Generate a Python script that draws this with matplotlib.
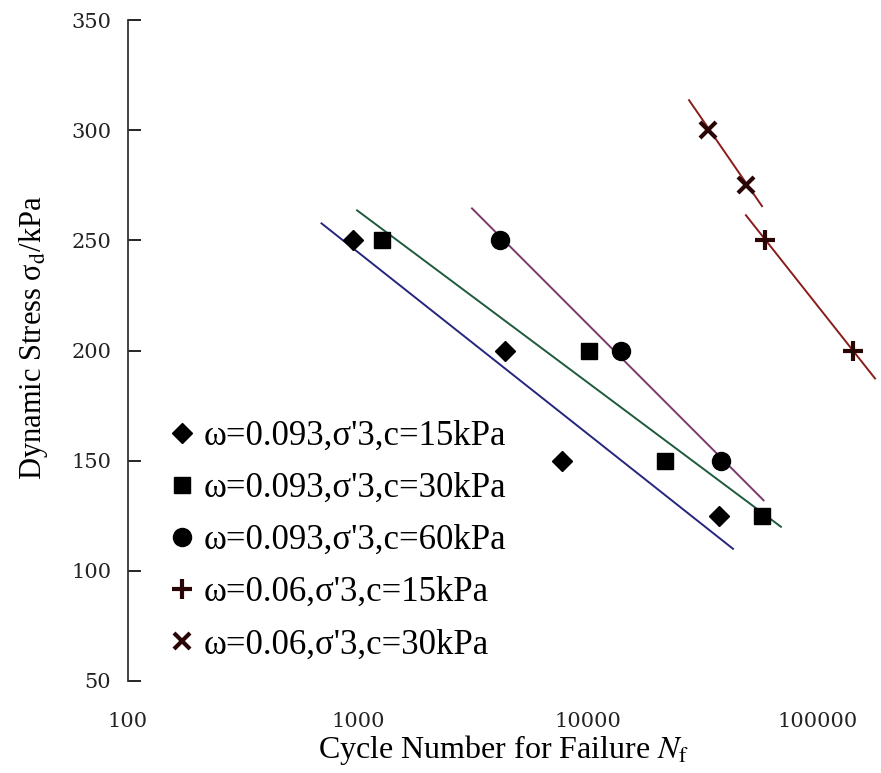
import matplotlib
matplotlib.use("Agg")
import matplotlib.pyplot as plt
import numpy as np

# ---------------- data ----------------
labels = ["ω=0.093,σ'3,c=15kPa", "ω=0.093,σ'3,c=30kPa", "ω=0.093,σ'3,c=60kPa",
          "ω=0.06,σ'3,c=15kPa", "ω=0.06,σ'3,c=30kPa"]

n_d15 = [950, 4360, 7710, 37000]
s_d15 = [250, 200, 150, 125]
n_d30 = [1270, 10100, 21600, 57000]
s_d30 = [250, 200, 150, 125]
n_d60 = [4140, 13900, 38000]
s_d60 = [250, 200, 150]
n_s15 = [58800, 142000]
s_s15 = [250, 200]
n_s30 = [33200, 48600]
s_s30 = [300, 275]

# trend lines (end points)
tl_n_d15 = [694, 42700];   tl_s_d15 = [257.7, 110.0]
tl_n_d30 = [991, 69000];   tl_s_d30 = [263.6, 120.0]
tl_n_d60 = [3130, 58000];  tl_s_d60 = [264.5, 132.0]
tl_n_s15 = [48600, 177000]; tl_s_s15 = [261.4, 187.3]
tl_n_s30 = [27500, 57100]; tl_s_s30 = [313.6, 265.5]

xticks = [100, 1000, 10000, 100000]
xtick_labels = ["100", "1000", "10000", "100000"]
yticks = [50, 100, 150, 200, 250, 300, 350]

# ---------------- figure ----------------
plt.rcParams['font.family'] = ['Liberation Serif', 'DejaVu Serif']
plt.rcParams['mathtext.fontset'] = 'stix'

fig = plt.figure(figsize=(8.81, 7.73), dpi=100)
ax = fig.add_axes([128/881, 92/773, 752/881, 661/773])

ax.set_xscale('log')
ax.set_xlim(100, 10**(2 + 752/230))
ax.set_ylim(50, 350)

line_cols = ['#25257f', '#1f5a3c', '#7a3a6c', '#8a1c1c', '#8a1c1c']
tls = [(tl_n_d15, tl_s_d15), (tl_n_d30, tl_s_d30), (tl_n_d60, tl_s_d60),
       (tl_n_s15, tl_s_s15), (tl_n_s30, tl_s_s30)]
for (tn, ts), c in zip(tls, line_cols):
    ax.plot(tn, ts, color=c, lw=1.4, zorder=2, clip_on=True)

ax.plot(n_d15, s_d15, ls='none', marker='D', ms=10, color='black', label=labels[0], zorder=3)
ax.plot(n_d30, s_d30, ls='none', marker='s', ms=12, color='black', label=labels[1], zorder=3)
ax.plot(n_d60, s_d60, ls='none', marker='o', ms=13, color='black', label=labels[2], zorder=3)
ax.plot(n_s15, s_s15, ls='none', marker='+', ms=14, mew=3, color='#2a0505', label=labels[3], zorder=3)
ax.plot(n_s30, s_s30, ls='none', marker='x', ms=12, mew=3, color='#2a0505', label=labels[4], zorder=3)

ax.set_xticks(xticks)
ax.set_xticklabels(xtick_labels)
ax.xaxis.set_minor_locator(matplotlib.ticker.NullLocator())
ax.set_yticks(yticks)
ax.tick_params(axis='y', direction='in', length=9, width=1.2, labelsize=15, pad=12)
ax.tick_params(axis='x', length=0, labelsize=15, pad=22)
for t in ax.get_xticklabels() + ax.get_yticklabels():
    t.set_fontfamily('DejaVu Serif')
    t.set_color('#222222')

for s in ['top', 'right', 'bottom']:
    ax.spines[s].set_visible(False)
ax.spines['left'].set_linewidth(1.3)
ax.spines['left'].set_color('#333333')

ax.set_xlabel(r"Cycle Number for Failure $\mathit{N}_{\mathrm{f}}$", fontsize=23, labelpad=2)
ax.set_ylabel(r"Dynamic Stress σ$_{\mathrm{d}}$/kPa", fontsize=22, labelpad=6)
ax.yaxis.set_label_coords(-0.104, 0.52)

leg = ax.legend(loc='upper left', bbox_to_anchor=(158/881, 1 - 406/773), bbox_transform=fig.transFigure,
                frameon=False, fontsize=25, handlelength=0.6, handletextpad=0.3,
                labelspacing=0.55, borderaxespad=0)

fig.savefig('out.png', dpi=100)
